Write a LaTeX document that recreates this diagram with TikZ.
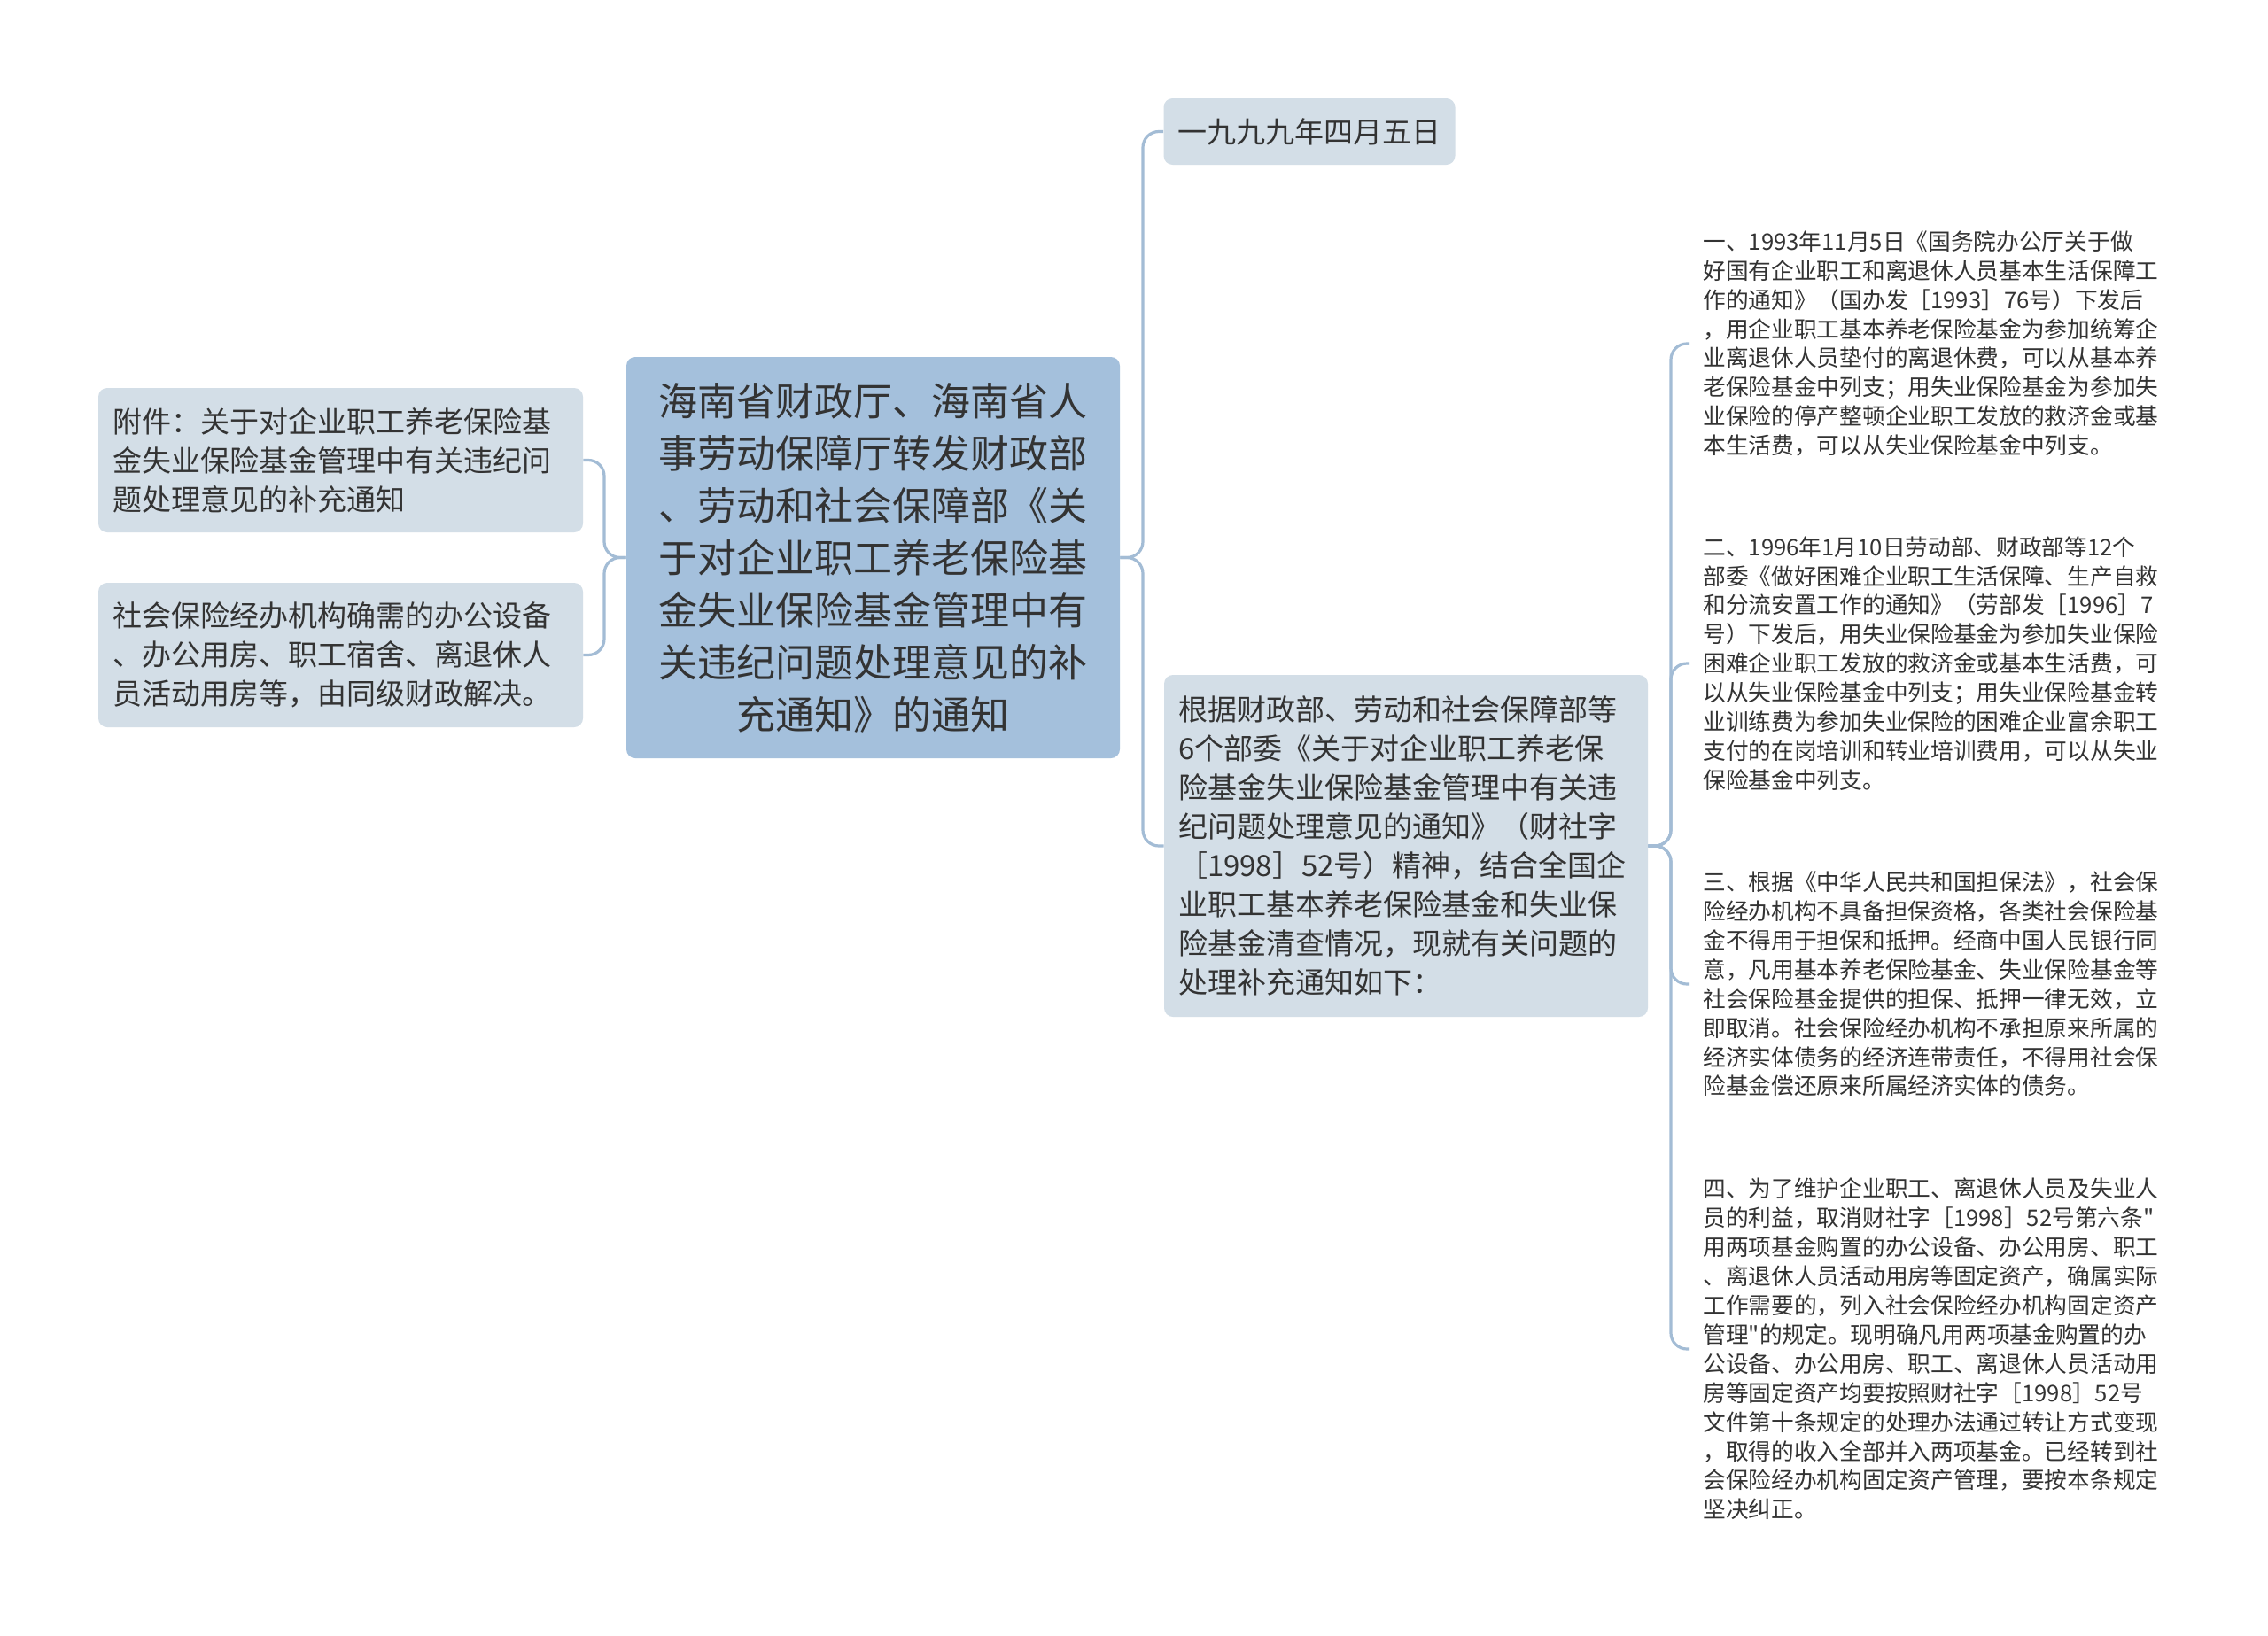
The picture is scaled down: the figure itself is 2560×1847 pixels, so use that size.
\documentclass[tikz,border=0pt]{standalone}
\usepackage{fontspec}
\setmainfont{Noto Sans CJK SC}[Ligatures=TeXOff]
\definecolor{rootfill}{HTML}{A4C0DC}
\definecolor{childfill}{HTML}{D3DEE7}
\definecolor{linec}{HTML}{A3BCD5}
\definecolor{textc}{HTML}{333333}
\tikzset{
  conn/.style={draw=linec, line width=1.6pt, rounded corners=9pt},
  rootbox/.style={fill=rootfill, rounded corners=5pt, text=textc, inner xsep=18pt, inner ysep=0pt,
    text width=242.5pt, minimum height=226.5pt, align=center,
    font=\fontsize{22pt}{29.5pt}\selectfont},
  childbox/.style={fill=childfill, rounded corners=5pt, text=textc, inner xsep=8pt, inner ysep=0pt,
    align=left, font=\fontsize{16.5pt}{22pt}\selectfont},
  leafbox/.style={text=textc, inner xsep=7.5pt, inner ysep=0pt, anchor=west, text width=262pt,
    align=left, font=\fontsize{12.85pt}{16.45pt}\selectfont}
}
\begin{document}
\begin{tikzpicture}[x=0.5pt,y=-0.5pt]
\useasboundingbox[fill=white] (0,0) rectangle (2560,1847);

\node[rootbox] (root) at (985.5,629.5) {海南省财政厅、海南省人\\事劳动保障厅转发财政部\\、劳动和社会保障部《关\\于对企业职工养老保险基\\金失业保险基金管理中有\\关违纪问题处理意见的补\\充通知》的通知};

\node[childbox, text width=257.5pt, minimum height=81.5pt] (l1) at (384.5,519.5) {附件：关于对企业职工养老保险基\\金失业保险基金管理中有关违纪问\\题处理意见的补充通知};
\node[childbox, text width=257.5pt, minimum height=81.5pt] (l2) at (384.5,739.5) {社会保险经办机构确需的办公设备\\、办公用房、职工宿舍、离退休人\\员活动用房等，由同级财政解决。};

\node[childbox, minimum width=164pt, minimum height=37.5pt] (date) at (1478,148.5) {一九九九年四月五日};
\node[childbox, text width=257pt, minimum height=193pt] (mid) at (1587,955) {根据财政部、劳动和社会保障部等\\6个部委《关于对企业职工养老保\\险基金失业保险基金管理中有关违\\纪问题处理意见的通知》（财社字\\［1998］52号）精神，结合全国企\\业职工基本养老保险基金和失业保\\险基金清查情况，现就有关问题的\\处理补充通知如下：};

\node[leafbox] (r1) at (1907,388) {一、1993年11月5日《国务院办公厅关于做\\好国有企业职工和离退休人员基本生活保障工\\作的通知》（国办发［1993］76号）下发后\\，用企业职工基本养老保险基金为参加统筹企\\业离退休人员垫付的离退休费，可以从基本养\\老保险基金中列支；用失业保险基金为参加失\\业保险的停产整顿企业职工发放的救济金或基\\本生活费，可以从失业保险基金中列支。};
\node[leafbox] (r2) at (1907,749) {二、1996年1月10日劳动部、财政部等12个\\部委《做好困难企业职工生活保障、生产自救\\和分流安置工作的通知》（劳部发［1996］7\\号）下发后，用失业保险基金为参加失业保险\\困难企业职工发放的救济金或基本生活费，可\\以从失业保险基金中列支；用失业保险基金转\\业训练费为参加失业保险的困难企业富余职工\\支付的在岗培训和转业培训费用，可以从失业\\保险基金中列支。};
\node[leafbox] (r3) at (1907,1111) {三、根据《中华人民共和国担保法》，社会保\\险经办机构不具备担保资格，各类社会保险基\\金不得用于担保和抵押。经商中国人民银行同\\意，凡用基本养老保险基金、失业保险基金等\\社会保险基金提供的担保、抵押一律无效，立\\即取消。社会保险经办机构不承担原来所属的\\经济实体债务的经济连带责任，不得用社会保\\险基金偿还原来所属经济实体的债务。};
\node[leafbox] (r4) at (1907,1523) {四、为了维护企业职工、离退休人员及失业人\\员的利益，取消财社字［1998］52号第六条"\\用两项基金购置的办公设备、办公用房、职工\\、离退休人员活动用房等固定资产，确属实际\\工作需要的，列入社会保险经办机构固定资产\\管理"的规定。现明确凡用两项基金购置的办\\公设备、办公用房、职工、离退休人员活动用\\房等固定资产均要按照财社字［1998］52号\\文件第十条规定的处理办法通过转让方式变现\\，取得的收入全部并入两项基金。已经转到社\\会保险经办机构固定资产管理，要按本条规定\\坚决纠正。};

\coordinate (jl) at (682,629.5);
\coordinate (jr) at (1290,629.5);
\coordinate (jm) at (1886,955);

\draw[conn] (root.west) -- (jl) |- (l1.east);
\draw[conn] (root.west) -- (jl) |- (l2.east);
\draw[conn] (root.east) -- (jr) |- (date.west);
\draw[conn] (root.east) -- (jr) |- (mid.west);
\draw[conn] (mid.east) -- (jm) |- (r1.west);
\draw[conn] (mid.east) -- (jm) |- (r2.west);
\draw[conn] (mid.east) -- (jm) |- (r3.west);
\draw[conn] (mid.east) -- (jm) |- (r4.west);
\end{tikzpicture}
\end{document}
